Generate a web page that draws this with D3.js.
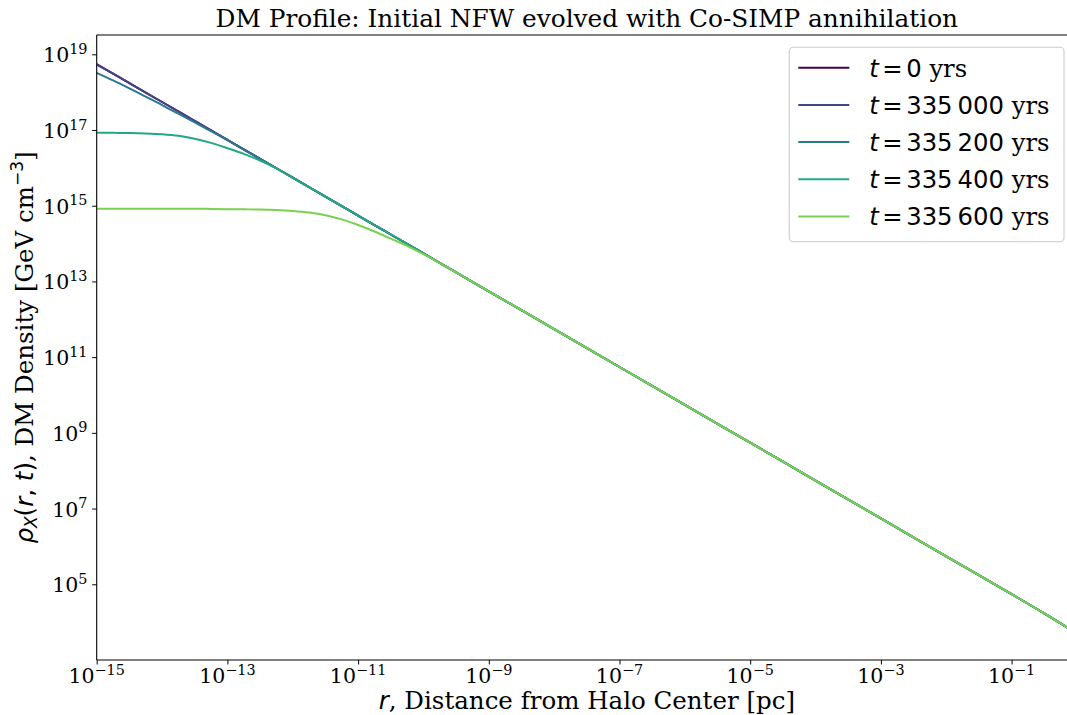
<!DOCTYPE html>
<html><head><meta charset="utf-8">
<script src="https://cdn.jsdelivr.net/npm/d3@7"></script>
<style>body{margin:0;background:#fff;} svg{display:block;}</style>
</head><body>
<svg id="chart" width="1067" height="715"></svg>
<script>
// ---- data (log10 values) ----
const logRadius = [-15, -14.75, -14.5, -14.25, -14, -13.75, -13.5, -13.25, -13, -12.75, -12.5, -12.25,
  -12, -11.75, -11.5, -11.25, -11, -10.75, -10.5, -10.25, -10, -9.5, -9, -8, -7, -6, -5, -4, -3, -2, -1, -0.5, 0];

const log10DensityT0 = [18.74, 18.49, 18.24, 17.99, 17.74, 17.49, 17.24, 16.99, 16.74, 16.49, 16.24, 15.99,
  15.74, 15.49, 15.24, 14.99, 14.74, 14.49, 14.24, 13.99, 13.74, 13.24, 12.74, 11.74, 10.74, 9.74, 8.74, 7.74, 6.74, 5.74, 4.74, 4.23, 3.70];
const log10DensityT335000 = [18.73, 18.49, 18.24, 17.99, 17.74, 17.49, 17.24, 16.99, 16.74, 16.49, 16.24, 15.99,
  15.74, 15.49, 15.24, 14.99, 14.74, 14.49, 14.24, 13.99, 13.74, 13.24, 12.74, 11.74, 10.74, 9.74, 8.74, 7.74, 6.74, 5.74, 4.74, 4.23, 3.70];
const log10DensityT335200 = [18.51, 18.31, 18.10, 17.88, 17.66, 17.43, 17.20, 16.97, 16.73, 16.485, 16.24, 15.99,
  15.74, 15.49, 15.24, 14.99, 14.74, 14.49, 14.24, 13.99, 13.74, 13.24, 12.74, 11.74, 10.74, 9.74, 8.74, 7.74, 6.74, 5.74, 4.74, 4.23, 3.70];
const log10DensityT335400 = [16.93, 16.925, 16.92, 16.91, 16.89, 16.85, 16.77, 16.66, 16.52, 16.37, 16.195, 15.985,
  15.735, 15.49, 15.24, 14.99, 14.74, 14.49, 14.24, 13.99, 13.74, 13.24, 12.74, 11.74, 10.74, 9.74, 8.74, 7.74, 6.74, 5.74, 4.74, 4.23, 3.70];
const log10DensityT335600 = [14.92, 14.92, 14.92, 14.92, 14.92, 14.92, 14.92, 14.915, 14.91, 14.905, 14.90, 14.885,
  14.86, 14.82, 14.75, 14.64, 14.49, 14.32, 14.13, 13.94, 13.72, 13.24, 12.74, 11.74, 10.74, 9.74, 8.74, 7.74, 6.74, 5.74, 4.74, 4.23, 3.70];

const timeLabels = ["0", "335 000", "335 200", "335 400", "335 600"];
const seriesColors = ["#440154", "#414487", "#2a788e", "#22a884", "#7ad151"];
const xTickExponents = [-15, -13, -11, -9, -7, -5, -3, -1];
const yTickExponents = [19, 17, 15, 13, 11, 9, 7, 5];

const seriesValues = [log10DensityT0, log10DensityT335000, log10DensityT335200, log10DensityT335400, log10DensityT335600];

// ---- layout ----
const mLeft = 96.7, mRight = 1076.95, mTop = 35, mBottom = 660;
const x = d3.scaleLog().domain([1e-15, 1e0]).range([mLeft, mRight]);
const y = d3.scaleLog().domain([1e3, Math.pow(10, 19.51)]).range([mBottom, mTop]);

const svg = d3.select("#chart");
const SERIF = "'DejaVu Serif', serif";
const SANS = "'DejaVu Sans', sans-serif";
const TICK_FS = 20.5, SUP_FS = 14.4, LABEL_FS = 24.5, TITLE_FS = 24.8, LEG_FS = 24.3;

svg.append("defs").append("clipPath").attr("id", "plotclip")
  .append("rect").attr("x", mLeft).attr("y", mTop).attr("width", mRight - mLeft).attr("height", mBottom - mTop);

// lines
const line = d3.line()
  .x(d => x(Math.pow(10, d[0])))
  .y(d => y(Math.pow(10, d[1])))
  .curve(d3.curveMonotoneX);

const plot = svg.append("g").attr("clip-path", "url(#plotclip)");
seriesValues.forEach((vals, i) => {
  plot.append("path")
    .datum(logRadius.map((r, k) => [r, vals[k]]))
    .attr("d", line)
    .attr("fill", "none")
    .attr("stroke", seriesColors[i])
    .attr("stroke-width", 2)
    .attr("stroke-linejoin", "round")
    .attr("stroke-linecap", "butt");
});

// axes (ticks)
const xAxis = d3.axisBottom(x).tickValues(xTickExponents.map(e => Math.pow(10, e)))
  .tickSize(4.5).tickSizeOuter(0).tickFormat("");
const yAxis = d3.axisLeft(y).tickValues(yTickExponents.map(e => Math.pow(10, e)))
  .tickSize(4.5).tickSizeOuter(0).tickFormat("");
const gx = svg.append("g").attr("transform", `translate(0,${mBottom})`).call(xAxis);
const gy = svg.append("g").attr("transform", `translate(${mLeft},0)`).call(yAxis);
[gx, gy].forEach(g => {
  g.selectAll("path.domain").remove();
  g.selectAll(".tick line").attr("stroke", "#000").attr("stroke-width", 1);
});

// spines
svg.append("line").attr("x1", mLeft).attr("x2", mLeft).attr("y1", mTop).attr("y2", mBottom).attr("stroke", "#000").attr("stroke-width", 1.1);
svg.append("line").attr("x1", mLeft).attr("x2", mRight).attr("y1", mBottom).attr("y2", mBottom).attr("stroke", "#000").attr("stroke-width", 1.1);
svg.append("line").attr("x1", mLeft).attr("x2", mRight).attr("y1", mTop).attr("y2", mTop).attr("stroke", "#000").attr("stroke-width", 1.1);

// tick labels
xTickExponents.forEach(e => {
  const t = svg.append("text").attr("x", x(Math.pow(10, e))).attr("y", 683)
    .attr("text-anchor", "middle").attr("font-family", SERIF).attr("font-size", TICK_FS).attr("fill", "#000");
  t.append("tspan").text("10");
  t.append("tspan").attr("dy", -8.5).attr("font-size", SUP_FS).text("\u2212" + Math.abs(e));
});
yTickExponents.forEach(e => {
  const t = svg.append("text").attr("x", 87.5).attr("y", y(Math.pow(10, e)) + 8)
    .attr("text-anchor", "end").attr("font-family", SERIF).attr("font-size", TICK_FS).attr("fill", "#000");
  t.append("tspan").text("10");
  t.append("tspan").attr("dy", -8.5).attr("font-size", SUP_FS).text(String(e));
});

// title
svg.append("text").attr("x", (mLeft + mRight) / 2).attr("y", 27).attr("text-anchor", "middle")
  .attr("font-family", SERIF).attr("font-size", TITLE_FS).attr("fill", "#000")
  .text("DM Profile: Initial NFW evolved with Co-SIMP annihilation");

// x label
{
  const t = svg.append("text").attr("x", (mLeft + mRight) / 2).attr("y", 709).attr("text-anchor", "middle")
    .attr("font-size", LABEL_FS).attr("fill", "#000");
  t.append("tspan").attr("font-family", SANS).attr("font-style", "italic").text("r");
  t.append("tspan").attr("font-family", SERIF).text(", Distance from Halo Center [pc]");
}

// y label
{
  const t = svg.append("text").attr("transform", `translate(33,${(mTop + mBottom) / 2}) rotate(-90)`)
    .attr("text-anchor", "middle").attr("font-size", LABEL_FS).attr("fill", "#000");
  t.append("tspan").attr("font-family", SANS).attr("font-style", "italic").text("\u03C1");
  t.append("tspan").attr("font-family", SANS).attr("font-style", "italic").attr("font-size", 17).attr("dy", 4).text("X");
  t.append("tspan").attr("font-family", SANS).attr("dy", -4).text("(");
  t.append("tspan").attr("font-family", SANS).attr("font-style", "italic").text("r");
  t.append("tspan").attr("font-family", SANS).text(", ");
  t.append("tspan").attr("font-family", SANS).attr("font-style", "italic").text("t");
  t.append("tspan").attr("font-family", SANS).text(")");
  t.append("tspan").attr("font-family", SERIF).text(", DM Density [GeV cm");
  t.append("tspan").attr("font-family", SANS).attr("font-size", 17).attr("dy", -10).text("\u22123");
  t.append("tspan").attr("font-family", SERIF).attr("dy", 10).text("]");
}

// legend
const lg = svg.append("g");
lg.append("rect").attr("x", 789.3).attr("y", 47.3).attr("width", 1064 - 789.3).attr("height", 241.7 - 47.3)
  .attr("rx", 4).attr("ry", 4).attr("fill", "#fff").attr("fill-opacity", 0.8)
  .attr("stroke", "#cccccc").attr("stroke-width", 1.1);
const rowY = [67.7, 104.9, 142.1, 179.3, 216.5];
timeLabels.forEach((lab, i) => {
  lg.append("line").attr("x1", 798.3).attr("x2", 849.3).attr("y1", rowY[i]).attr("y2", rowY[i])
    .attr("stroke", seriesColors[i]).attr("stroke-width", 2);
  const t = lg.append("text").attr("x", 869.3).attr("y", rowY[i] + 8.8).attr("font-size", LEG_FS).attr("fill", "#000");
  t.append("tspan").attr("font-family", SANS).attr("font-style", "italic").text("t");
  t.append("tspan").attr("font-family", SANS).attr("dx", 3.5).text("=");
  const parts = lab.split(" ");
  t.append("tspan").attr("font-family", SANS).attr("dx", 3.5).text(parts[0]);
  if (parts[1]) t.append("tspan").attr("font-family", SANS).attr("dx", 5).text(parts[1]);
  t.append("tspan").attr("font-family", SERIF).text(" yrs");
});
</script>
</body></html>
